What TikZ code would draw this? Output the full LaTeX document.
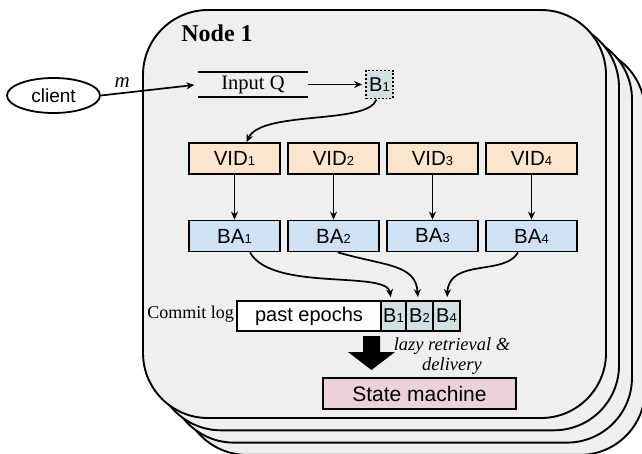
\documentclass[tikz,border=0pt]{standalone}
\usepackage{fontspec}
\newfontfamily\arialf{Liberation Sans}
\newfontfamily\seriff{Liberation Serif}
\usetikzlibrary{arrows.meta,calc,shapes.geometric}
\definecolor{bggray}{HTML}{EFEFEF}
\definecolor{peach}{HTML}{FCE5CD}
\definecolor{lblue}{HTML}{CFE2F3}
\definecolor{tgray}{HTML}{D0E0E3}
\definecolor{lpink}{HTML}{EAD1DC}
\newcommand{\smn}[1]{{\fontsize{13}{13}\selectfont #1}}
\begin{document}
\begin{tikzpicture}[x=1pt,y=-1pt,
  stack/.style={draw, fill=bggray, line width=1.9pt, rounded corners=65pt},
  box/.style={draw, line width=1.8pt, minimum width=91pt, minimum height=31pt, inner sep=0pt,
    font=\arialf\fontsize{20.5}{22}\selectfont},
  vidbox/.style={box, fill=peach},
  babox/.style={box, fill=lblue},
  cell/.style={draw, line width=1.8pt, fill=tgray, minimum height=30pt, inner sep=0pt,
    font=\arialf\fontsize{20}{22}\selectfont},
  conn/.style={line width=1.7pt, -{Stealth[length=8pt,width=7pt]}},
  serif/.style={font=\seriff\fontsize{20.5}{22}\selectfont}
]
\useasboundingbox (0,0) rectangle (642,453);
\clip (0,0) rectangle (642,453);
% stacked node frames
\draw[stack] (182,46.9) rectangle (645,454.9);
\draw[stack] (169,34.6) rectangle (632,442.6);
\draw[stack] (156,22.3) rectangle (619,430.3);
\draw[stack] (143,10) rectangle (606,418);

\node[font=\seriff\bfseries\fontsize{24}{26}\selectfont] (title) at (217,33) {Node 1};

% client
\node[draw, ellipse, line width=1.8pt, minimum width=93pt, minimum height=35pt, inner sep=0pt,
  font=\arialf\fontsize{19}{20}\selectfont] (client) at (53.5,95.5) {client};

% input queue
\node[serif, minimum width=109pt, minimum height=25pt, inner sep=0pt] (iq) at (253,84.5) {Input Q};
\draw[line width=1.8pt] (iq.north west) -- (iq.north east);
\draw[line width=1.8pt] (iq.south west) -- (iq.south east);

\draw[conn, shorten >=4pt] (client.east) -- node[above, pos=0.22, yshift=1pt, font=\seriff\itshape\fontsize{21}{21}\selectfont] {m} (iq.west);

% B1 batch
\node[draw, dotted, line width=1.9pt, fill=tgray, minimum width=27pt, minimum height=28pt, inner sep=0pt,
  font=\arialf\fontsize{20}{22}\selectfont] (b1) at (379.5,84.5) {B\smn{1}};
\draw[conn, shorten >=3pt] (iq.east) -- (b1.west);

% VID and BA boxes
\node[vidbox] (vid1) at (234.5,158.5) {VID\smn{1}};
\node[vidbox] (vid2) at (333.5,158.5) {VID\smn{2}};
\node[vidbox] (vid3) at (432.5,158.5) {VID\smn{3}};
\node[vidbox] (vid4) at (531.5,158.5) {VID\smn{4}};
\node[babox] (ba1) at (234.5,236) {BA\smn{1}};
\node[babox] (ba2) at (333.5,236) {BA\smn{2}};
\node[babox] (ba3) at (432.5,236) {BA\smn{3}};
\node[babox] (ba4) at (531.5,236) {BA\smn{4}};
\foreach \i in {1,2,3,4} {\draw[conn] (vid\i.south) -- (ba\i.north);}

\draw[conn] ([xshift=-3pt]b1.south) .. controls (368,125) and (262,110) .. ([xshift=12pt]vid1.north);

% commit log
\node[draw, line width=1.8pt, fill=white, minimum width=144pt, minimum height=30pt, inner sep=0pt,
  font=\arialf\fontsize{20}{22}\selectfont] (past) at (309,316) {past epochs};
\node[cell, minimum width=25pt] (c1) at (393.5,316) {B\smn{1}};
\node[cell, minimum width=27pt] (c2) at (419.5,316) {B\smn{2}};
\node[cell, minimum width=27pt] (c4) at (446.5,316) {B\smn{4}};
\node[anchor=east, inner xsep=2pt, font=\seriff\fontsize{18}{20}\selectfont] (cl) at (236,314) {Commit log};

\draw[conn, shorten >=3pt] ([xshift=15.5pt]ba1.south) .. controls (272,292) and (387,270) .. ([xshift=-2.5pt]c1.north);
\draw[conn, shorten >=3pt] ([xshift=4.5pt]ba2.south) .. controls (385,266) and (416,264) .. ([xshift=-1.5pt]c2.north);
\draw[conn, shorten >=3pt] ([xshift=-13.5pt]ba4.south) .. controls (505,276) and (449,258) .. ([xshift=0.5pt]c4.north);

% state machine
\node[draw, line width=1.8pt, fill=lpink, minimum width=193pt, minimum height=31pt, inner sep=0pt,
  font=\arialf\fontsize{21}{22}\selectfont] (sm) at (419.5,393.5) {State machine};

% block arrow
\fill (363,336) -- (380,336) -- (380,352) -- (395,352) -- (371.5,370) -- (348,352) -- (363,352) -- cycle;
\node[align=center, font=\seriff\itshape\fontsize{18.5}{20}\selectfont] (lazy) at (452,356) {lazy retrieval \&\\delivery};
\end{tikzpicture}
\end{document}
